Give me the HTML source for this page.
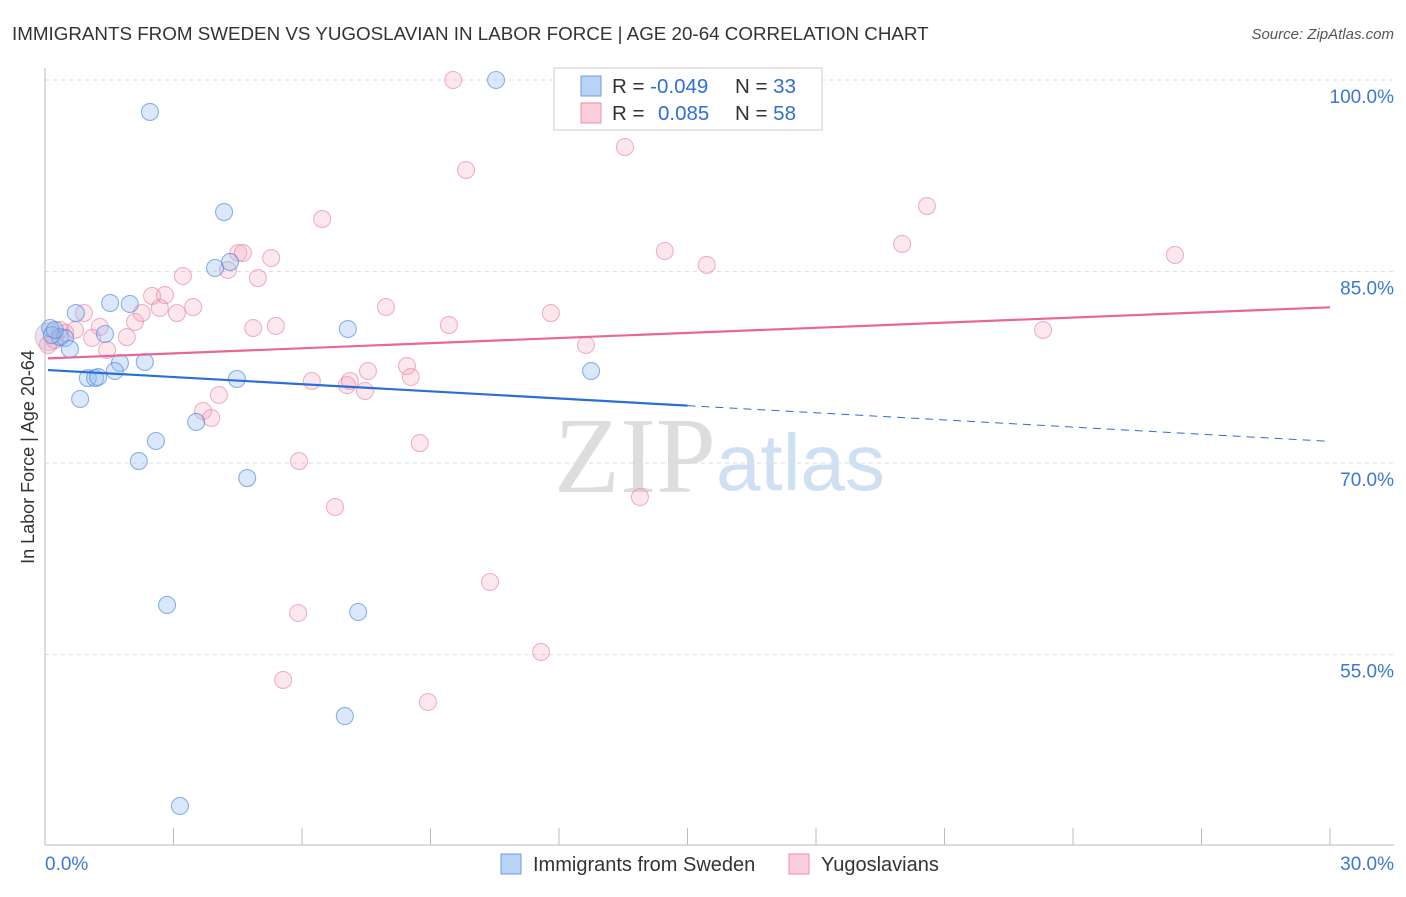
<!DOCTYPE html>
<html><head><meta charset="utf-8"><style>
body{margin:0;background:#fff;font-family:"Liberation Sans",sans-serif}
</style></head><body>
<svg width="1406" height="892" xmlns="http://www.w3.org/2000/svg">
<text x="12" y="40" font-size="18.8" fill="#333">IMMIGRANTS FROM SWEDEN VS YUGOSLAVIAN IN LABOR FORCE | AGE 20-64 CORRELATION CHART</text>
<text x="1394" y="39" font-size="15" fill="#555" font-style="italic" text-anchor="end">Source: ZipAtlas.com</text>
<text x="716" y="492" font-size="108" fill="#ddd" text-anchor="end" font-family="Liberation Serif">ZIP</text>
<text x="716" y="490" font-size="80" fill="#cfe0f3">atlas</text>
<g id="grid"></g><g id="pts"></g><g id="trend"></g>
<text transform="translate(34,457) rotate(-90)" font-size="18" fill="#333" text-anchor="middle">In Labor Force | Age 20-64</text>
<rect x="554" y="68" width="268" height="62" fill="#fff" stroke="#ccc"/>
<rect x="581" y="76" width="20" height="20" fill="#b9d3f5" stroke="#6a9be0"/>
<rect x="581" y="103" width="20" height="20" fill="#f9cdd9" stroke="#ea8fab"/>
<text x="612" y="93" font-size="20.5" fill="#333">R = <tspan fill="#2f6fd6">-0.049</tspan><tspan x="735">N = </tspan><tspan fill="#2f6fd6">33</tspan></text>
<text x="612" y="120" font-size="20.5" fill="#333">R = <tspan fill="#2f6fd6" x="658">0.085</tspan><tspan x="735">N = </tspan><tspan fill="#2f6fd6">58</tspan></text>
<rect x="501" y="854" width="20" height="20" fill="#b9d3f5" stroke="#6a9be0"/>
<text x="533" y="871" font-size="20" fill="#333">Immigrants from Sweden</text>
<rect x="789" y="854" width="20" height="20" fill="#f9cdd9" stroke="#ea8fab"/>
<text x="821" y="871" font-size="20" fill="#333">Yugoslavians</text>
<text x="45" y="870" font-size="19" fill="#3a78d4">0.0%</text>
<text x="1394" y="870" font-size="19" fill="#3a78d4" text-anchor="end">30.0%</text>
</svg>
<script>
const yTicks=[100,85,70,55];
const yTickLabels=["100.0%","85.0%","70.0%","55.0%"];
const xTicks=[0,3,6,9,12,15,18,21,24,27,30];
const swedenX=[2.45,4.18,3.97,4.32,0.72,1.52,1.98,0.12,0.35,0.47,0.58,1.40,7.07,1.75,2.33,1.63,1.00,1.17,1.24,4.48,0.82,3.53,2.59,2.19,4.72,12.75,2.85,7.31,7.00,3.15,10.53,0.16,0.23];
const swedenY=[97.5,89.66,85.28,85.75,81.75,82.54,82.46,80.58,79.87,79.8,78.93,80.11,80.5,77.84,77.92,77.21,76.66,76.66,76.74,76.59,75.02,73.22,71.73,70.16,68.83,77.21,58.89,58.34,50.19,43.15,100,80.03,80.42];
const yugoX=[9.53,13.54,9.83,6.47,20.59,20.01,14.47,15.45,26.38,4.51,4.62,5.28,4.27,4.97,3.22,2.5,2.8,3.46,2.68,3.08,2.26,0.91,7.96,11.81,9.43,5.39,4.86,1.28,1.1,1.91,2.1,0.47,23.3,12.63,1.45,8.45,7.54,8.54,6.23,7.05,7.12,7.47,4.06,3.69,3.88,8.75,5.93,6.77,13.89,10.39,5.91,11.58,5.56,8.94,0.7,0.35,0.23,0.07];
const yugoY=[100,94.75,92.95,89.11,90.13,87.16,86.61,85.52,86.3,86.45,86.45,86.06,85.12,84.49,84.65,83.09,83.16,82.22,82.15,81.75,81.75,81.75,82.22,81.75,80.81,80.74,80.58,80.66,79.8,79.87,81.05,80.19,80.42,79.25,78.86,77.6,77.21,76.74,76.43,76.11,76.43,75.65,75.33,74.08,73.53,71.57,70.16,66.56,67.34,60.69,58.26,55.21,53.02,51.29,80.42,80.42,79.64,79.25];
const swedenTrend=[77.3,71.7];
const yugoTrend=[78.2,82.2];
const NS="http://www.w3.org/2000/svg";
const X=v=>45+v/30*1285, Y=v=>80+(100-v)*12.77;
function mk(t,a,p){const e=document.createElementNS(NS,t);for(const k in a)e.setAttribute(k,a[k]);p.appendChild(e);return e;}
const g=document.getElementById('grid');
yTicks.forEach((t,i)=>{
 const l=mk('line',{x1:45,x2:1394,y1:Y(t),y2:Y(t),stroke:'#ddd','stroke-dasharray':'4,4'},g);
 
 
 const tx=mk('text',{x:1394,y:Y(t)+23,'font-size':19,fill:'#3a78d4','text-anchor':'end'},g);
 tx.textContent=yTickLabels[i];
 
 
});
const ax=mk('line',{x1:45,x2:45,y1:68,y2:845,stroke:'#bbb'},g);


const bx=mk('line',{x1:45,x2:1394,y1:845,y2:845,stroke:'#bbb'},g);


xTicks.forEach(t=>{
 const l=mk('line',{x1:X(t),x2:X(t),y1:828,y2:845,stroke:'#bbb'},g);
 
 
});
const p=document.getElementById('pts');
const big=mk('circle',{cx:X(0.1),cy:Y(79.9),r:14,fill:'rgba(200,170,210,0.35)',stroke:'rgba(180,150,200,0.5)'},p);


yugoX.forEach((v,i)=>{
 const c=mk('circle',{cx:X(v),cy:Y(yugoY[i]),r:8.5,fill:'rgba(244,160,185,0.25)',stroke:'rgba(230,130,160,0.6)','stroke-width':1.1},p);
 
 
});
swedenX.forEach((v,i)=>{
 const c=mk('circle',{cx:X(v),cy:Y(swedenY[i]),r:8.5,fill:'rgba(150,190,240,0.35)',stroke:'rgba(70,130,220,0.6)','stroke-width':1.1},p);
 
 
});
const tr=document.getElementById('trend');
const sAt=x=>swedenTrend[0]+(swedenTrend[1]-swedenTrend[0])*x/30;
let l1=mk('line',{x1:X(0.07),y1:Y(sAt(0.07)),x2:X(15),y2:Y(sAt(15)),stroke:'#2a6fd6','stroke-width':2.2},tr);


let l2=mk('line',{x1:X(15),y1:Y(sAt(15)),x2:X(30),y2:Y(sAt(30)),stroke:'#2a6fd6','stroke-width':1,'stroke-dasharray':'8,6'},tr);


let l3=mk('line',{x1:X(0.07),y1:Y(yugoTrend[0]),x2:X(30),y2:Y(yugoTrend[1]),stroke:'#e8679a','stroke-width':2.2},tr);


</script>
</body></html>
